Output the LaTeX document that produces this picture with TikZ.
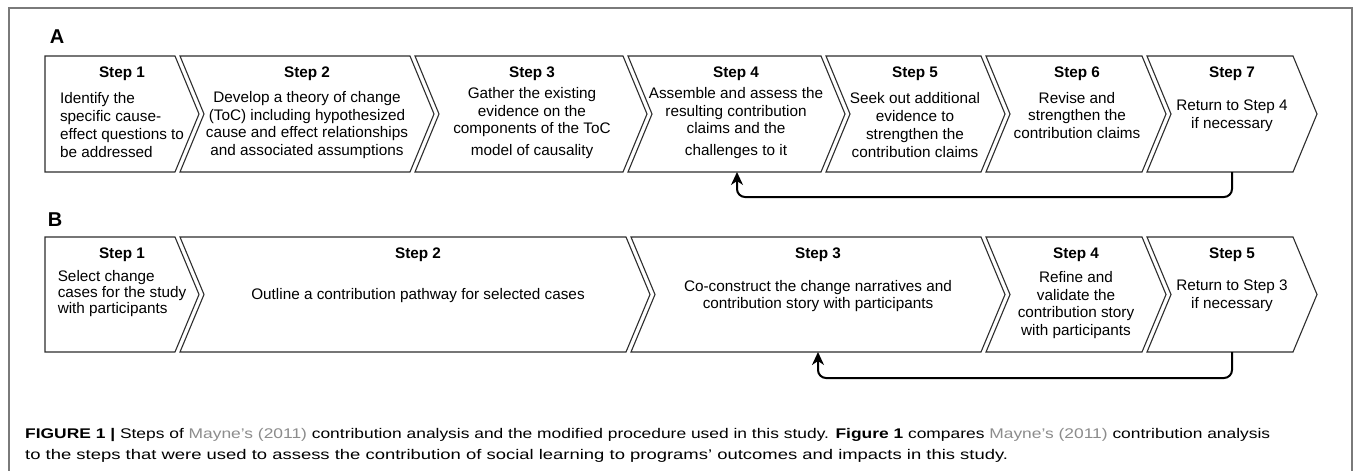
\documentclass[tikz,border=0pt]{standalone}
\usepackage{fontspec}
\setmainfont{Liberation Sans}
\usepackage{graphicx}
\usetikzlibrary{arrows.meta}
\definecolor{framegray}{HTML}{7A7A7A}
\definecolor{linkgray}{HTML}{8C8C8C}
\definecolor{chevline}{HTML}{2E2E2E}
\tikzset{
  chev/.style={draw=chevline, line width=1.1pt, fill=white, line join=miter},
  ttl/.style={font=\fontsize{15.3}{17.8}\selectfont\bfseries, inner sep=0pt, anchor=center},
  body/.style={font=\fontsize{15.3}{17.8}\selectfont, inner sep=0pt, align=center},
  bodyl/.style={font=\fontsize{15.3}{17.8}\selectfont, inner sep=0pt, align=left},
  lbl/.style={font=\fontsize{20}{24}\selectfont\bfseries, inner sep=0pt},
  loopback/.style={draw=black, line width=2pt, rounded corners=8pt, -{Stealth[length=13pt,width=12pt,inset=4pt]}},
  captext/.style={font=\fontsize{14}{17}\selectfont, inner sep=0pt, anchor=base west},
  frameline/.style={draw=framegray, line width=1.2pt},
}
% chevron with notched left side: L R Top Bottom
\newcommand\chevN[4]{\path[chev] (#1,#3) -- (#2,#3) -- ({#2+24},{(#3+#4)/2}) -- (#2,#4) -- (#1,#4) -- ({#1+24},{(#3+#4)/2}) -- cycle;}
% chevron with flat left side
\newcommand\chevF[4]{\path[chev] (#1,#3) -- (#2,#3) -- ({#2+24},{(#3+#4)/2}) -- (#2,#4) -- (#1,#4) -- cycle;}
\begin{document}
\begin{tikzpicture}[x=1pt,y=-1pt]
\useasboundingbox[fill=white] (0,0) rectangle (1357,471);
% frame
\draw[frameline] (9,472) -- (9,8) -- (1352,8) -- (1352,472);

% ---------------- Row A ----------------
\node[lbl] (labA) at (57,36.5) {A};
\chevF{45}{175}{56}{172}
\chevN{180}{410}{56}{172}
\chevN{415}{623}{56}{172}
\chevN{628}{821}{56}{172}
\chevN{826}{981}{56}{172}
\chevN{986}{1142}{56}{172}
\chevN{1147}{1293}{56}{172}

\node[ttl] (A1t) at (122,74) {Step 1};
\node[bodyl] (A1b) at (122,125) {Identify the\\specific cause-\\effect questions to\\be addressed};
\node[ttl] (A2t) at (307,74) {Step 2};
\node[body] (A2b) at (307,125) {Develop a theory of change\\(ToC) including hypothesized\\cause and effect relationships\\and associated assumptions};
\node[ttl] (A3t) at (532,74) {Step 3};
\node[body] (A3b) at (532,123) {Gather the existing\\evidence on the\\components of the ToC\\[4pt]model of causality};
\node[ttl] (A4t) at (736,74) {Step 4};
\node[body] (A4b) at (736,123) {Assemble and assess the\\resulting contribution\\claims and the\\[4pt]challenges to it};
\node[ttl] (A5t) at (915,74) {Step 5};
\node[body] (A5b) at (915,125) {Seek out additional\\evidence to\\strengthen the\\contribution claims};
\node[ttl] (A6t) at (1077,74) {Step 6};
\node[body] (A6b) at (1077,115.5) {Revise and\\strengthen the\\contribution claims};
\node[ttl] (A7t) at (1232,74) {Step 7};
\node[body] (A7b) at (1232,115.5) {Return to Step 4\\if necessary};

\coordinate (A7bot) at (1232,172);
\coordinate (A4bot) at (737,172);
\draw[loopback] (A7bot) -- ++(0,25) -| (A4bot);

% ---------------- Row B ----------------
\node[lbl] (labB) at (55,219.5) {B};
\chevF{45}{175}{237}{352}
\chevN{180}{626}{237}{352}
\chevN{631}{981}{237}{352}
\chevN{986}{1142}{237}{352}
\chevN{1147}{1293}{237}{352}

\node[ttl] (B1t) at (122,255) {Step 1};
\node[bodyl, font=\fontsize{15.3}{16}\selectfont] (B1b) at (122,294) {Select change\\cases for the study\\with participants};
\node[ttl] (B2t) at (418,255) {Step 2};
\node[body] (B2b) at (418,296) {Outline a contribution pathway for selected cases};
\node[ttl] (B3t) at (818,255) {Step 3};
\node[body] (B3b) at (818,296) {Co-construct the change narratives and\\contribution story with participants};
\node[ttl] (B4t) at (1076,255) {Step 4};
\node[body] (B4b) at (1076,305) {Refine and\\validate the\\contribution story\\with participants};
\node[ttl] (B5t) at (1232,255) {Step 5};
\node[body] (B5b) at (1232,296) {Return to Step 3\\if necessary};

\coordinate (B5bot) at (1232,352);
\coordinate (B3bot) at (818,352);
\draw[loopback] (B5bot) -- ++(0,26) -| (B3bot);

% ---------------- Caption ----------------
\node[captext] (cap1) at (25,438) {\resizebox{1245pt}{\height}{\textbf{FIGURE 1 |} Steps of \textcolor{linkgray}{Mayne’s (2011)} contribution analysis and the modified procedure used in this study. \textbf{Figure 1} compares \textcolor{linkgray}{Mayne’s (2011)} contribution analysis}};
\node[captext] (cap2) at (25,459) {\resizebox{983pt}{\height}{to the steps that were used to assess the contribution of social learning to programs’ outcomes and impacts in this study.}};
\end{tikzpicture}
\end{document}
